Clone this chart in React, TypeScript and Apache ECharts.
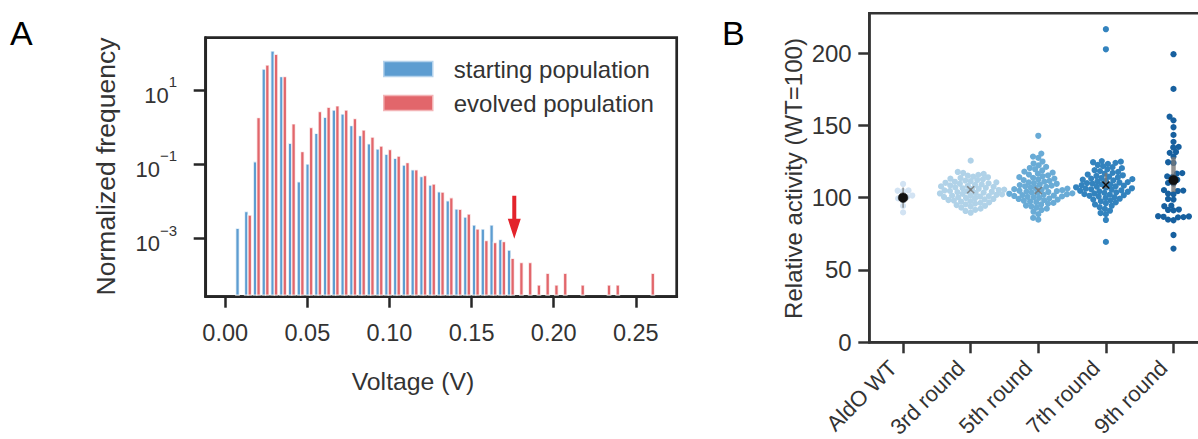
import React, { useEffect, useRef } from "react";
import * as echarts from "echarts";

const FONT = "'Liberation Sans', Arial, Helvetica, sans-serif";

// ---------------- Panel A: voltage histogram ----------------
const BIN_START = 0.00588;
const BIN_WIDTH = 0.005335;
const startingFreq = [
  0.0019, 0.0054, 0.117, 36.3, 112, 22.9, 0.37, 0.034, 0.102, 0.68, 1.84, 2.88,
  2.26, 1.1, 0.59, 0.355, 0.257, 0.186, 0.145, 0.095, 0.071, 0.047, 0.0275, 0.0182,
  0.0105, 0.0063, 0.0038, 0.00234, 0.00182, 0.00234, 0.00095, 0.00049, 0, 0, 0, 0,
  0, 0, 0, 0, 0, 0, 0, 0, 0, 0, 0, 0,
];
const evolvedFreq = [
  0, 0.0043, 1.8, 46.8, 91.2, 22.9, 1.22, 0.219, 0.98, 2.63, 3.43, 3.72,
  2.88, 1.7, 0.84, 0.537, 0.309, 0.251, 0.166, 0.111, 0.071, 0.05, 0.0295, 0.0178,
  0.0126, 0.0062, 0.0046, 0.00182, 0.00089, 0.00079, 0.00083, 0.000295, 0.000229, 0.000229, 0.0000569, 0.000117,
  0.0000569, 0.000117, 0, 0.0000569, 0, 0, 0.0000569, 0.0000569, 0, 0, 0, 0.000117,
];
const voltageTicks = [0, 0.05, 0.1, 0.15, 0.2, 0.25];
const freqTickExponents = [-3, -1, 1];
const voltageRange = [-0.0119, 0.2749];
const logFreqRange = [-4.56, 2.407];
const arrowVoltage = 0.176;
const arrowFreq = 0.001;
const seriesNamesA = ["starting population", "evolved population"];

// ---------------- Panel B: relative activity swarm ----------------
const categories = ["AldO WT", "3rd round", "5th round", "7th round", "9th round"];
const wtActivity = [109.5, 105, 104.8, 104.5, 101.5, 100.5, 99.5, 98, 94.3, 89.8];
const round3Activity = [
  125.6,
  117.8, 117.1,
  116.4, 115.8, 115.2,
  114.6, 114.1, 113.6, 113.1,
  112.7, 112.2, 111.8, 111.4, 111.0,
  110.6, 110.3, 109.9, 109.6, 109.2, 108.9,
  108.5, 108.2, 107.8, 107.5, 107.1, 106.8,
  106.5, 106.2, 105.9, 105.6, 105.3, 105.0, 104.7,
  104.4, 104.1, 103.8, 103.5, 103.2, 102.9, 102.6,
  102.3, 102.0, 101.7, 101.4, 101.1, 100.8, 100.5,
  100.2, 99.8, 99.5, 99.1, 98.8, 98.4,
  98.0, 97.6, 97.2, 96.8, 96.4,
  95.9, 95.4, 94.9, 94.4,
  93.8, 93.1, 92.4,
  91.6, 90.8,
  89.6,
];
const round5Activity = [
  142.8,
  130.5,
  128.4, 127.5,
  125.0,
  123.6, 122.4,
  121.3, 120.5, 119.7,
  118.8, 118.0, 117.3,
  116.6, 116.0, 115.4, 114.8,
  114.2, 113.7, 113.2, 112.6, 112.1,
  111.6, 111.1, 110.6, 110.1, 109.6,
  109.1, 108.7, 108.3, 107.9, 107.5, 107.1,
  106.7, 106.3, 105.9, 105.6, 105.2, 104.8,
  104.5, 104.2, 103.9, 103.6, 103.3, 103.0, 102.7,
  102.4, 102.1, 101.8, 101.5, 101.2, 100.9, 100.6,
  100.3, 99.9, 99.5, 99.1, 98.7, 98.3,
  97.9, 97.4, 96.9, 96.4, 95.9,
  95.3, 94.6, 93.9, 93.2,
  92.4, 91.5,
  90.3,
  88.6,
  86.0, 84.8,
];
const round7Activity = [
  216.5, 202.6,
  125.3, 124.9, 124.5, 124.1,
  123.4, 122.6, 121.8,
  121.1, 120.4, 119.7,
  119.0, 118.4, 117.8, 117.2,
  116.6, 116.0, 115.5, 115.0, 114.5,
  114.0, 113.6, 113.2, 112.8, 112.4, 112.0,
  111.6, 111.2, 110.8, 110.5, 110.1, 109.7, 109.3,
  109.0, 108.6, 108.3, 107.9, 107.6, 107.2, 106.9,
  106.5, 106.2, 105.8, 105.5, 105.1, 104.8, 104.4,
  104.1, 103.7, 103.3, 102.9, 102.5, 102.1,
  101.7, 101.3, 100.8, 100.3, 99.8,
  99.3, 98.7, 98.1, 97.5,
  96.8, 96.1, 95.3,
  94.4, 93.4,
  92.3, 91.0,
  89.4, 88.6,
  84.6,
  69.4,
];
const round9Activity = [
  199.2, 175.2, 156.0, 153.5, 148.7, 143.4, 138.6, 135.1, 134.7, 131.6, 131.0,
  128.4, 124.5, 124.0, 117.0, 116.6, 114.7, 114.3, 112.4, 110.2, 109.8, 105.2,
  104.9, 104.6, 102.8, 102.4, 99.1, 98.7, 94.5, 94.1, 91.8, 91.5, 91.2, 87.2,
  87.0, 86.8, 86.6, 86.4, 84.8, 84.4, 74.2, 64.8,
];
const groupActivity = [wtActivity, round3Activity, round5Activity, round7Activity, round9Activity];
const groupMean = [100, 105.5, 105, 108.8, 112.2];
const groupCILow = [93, 104.5, 104, 106.5, 104];
const groupCIHigh = [107, 106.5, 106.5, 117, 128];
const groupMarkerKind = [0, 1, 1, 2, 0];
const activityTicks = [0, 50, 100, 150, 200];
const activityMax = 227.5;

const groupColors = ["#d2e3f3", "#b0d2e8", "#69abd6", "#3383be", "#17609f"];
const CI_WIDTHS = [1.5, 1.5, 1.5, 2.5, 4.5];
const BLUE = "#5d9dd1";
const RED = "#e2666b";
const BLUE_EDGE = "#b4d2ec";
const RED_EDGE = "#f3b4b6";
const AXIS = "#262626";
const TEXT = "#333333";

function histRender(offsetFrac: number, fill: string) {
  return (params: any, api: any) => {
    const x0 = api.value(0) + offsetFrac * BIN_WIDTH;
    const x1 = x0 + 0.4 * BIN_WIDTH;
    const p0 = api.coord([x0, api.value(1)]);
    const p1 = api.coord([x1, logFreqRange[0]]);
    return {
      type: "rect",
      shape: { x: p0[0], y: p0[1], width: p1[0] - p0[0], height: p1[1] - p0[1] - 1.6 },
      style: { fill, stroke: "rgba(255,255,255,0.75)", lineWidth: 1.3 },
    };
  };
}

function histData(freqs: number[]) {
  const out: number[][] = [];
  freqs.forEach((f, k) => {
    if (f > 0) out.push([BIN_START + k * BIN_WIDTH, Math.log10(f)]);
  });
  return out;
}

function swarmOffsets(ys: number[], r: number): number[] {
  const idx = ys.map((_, i) => i).sort((a, b) => ys[b] - ys[a]);
  const placed: { x: number; y: number }[] = [];
  const out = new Array(ys.length).fill(0);
  const d = 2 * r;
  for (const i of idx) {
    const y = ys[i];
    const neighbors = placed.filter((p) => Math.abs(p.y - y) < d);
    const cands = [0];
    for (const p of neighbors) {
      const dy = y - p.y;
      const dx = Math.sqrt(Math.max(d * d - dy * dy, 0)) * 1.05;
      cands.push(p.x - dx, p.x + dx);
    }
    cands.sort((a, b) => Math.abs(a) - Math.abs(b));
    let chosen = 0;
    for (const c of cands) {
      if (neighbors.every((p) => (p.x - c) ** 2 + (p.y - y) ** 2 >= d * d * 0.999)) {
        chosen = c;
        break;
      }
    }
    placed.push({ x: chosen, y });
    out[i] = chosen;
  }
  return out;
}

export default function App() {
  const ref = useRef<HTMLDivElement>(null);
  useEffect(() => {
    if (!ref.current) return;
    const chart = echarts.init(ref.current, null, { renderer: "svg" });
    const histSeries = [
      {
        type: "custom",
        name: seriesNamesA[0],
        xAxisIndex: 0,
        yAxisIndex: 0,
        itemStyle: { color: BLUE },
        encode: { x: 0, y: 1 },
        data: histData(startingFreq),
        renderItem: histRender(0.1, BLUE),
        z: 2,
      },
      {
        type: "custom",
        name: seriesNamesA[1],
        xAxisIndex: 0,
        yAxisIndex: 0,
        itemStyle: { color: RED },
        encode: { x: 0, y: 1 },
        data: histData(evolvedFreq),
        renderItem: histRender(0.5, RED),
        z: 2,
      },
    ];
    const base: any = {
      animation: false,
      backgroundColor: "#ffffff",
      textStyle: { fontFamily: FONT },
      grid: [
        { left: 205.7, top: 37.7, width: 471, height: 259, show: true, borderColor: AXIS, borderWidth: 2.7, backgroundColor: "transparent", outerBoundsMode: "none", containLabel: false },
        { left: 869.3, top: 13.3, width: 338, height: 329, show: true, borderColor: "#333", borderWidth: 2.5, backgroundColor: "transparent", outerBoundsMode: "none", containLabel: false },
      ],
      legend: {
        orient: "vertical",
        left: 383,
        top: 56,
        padding: 0,
        itemWidth: 49,
        itemHeight: 15,
        itemGap: 8,
        icon: "rect",
        textStyle: { fontSize: 24, color: TEXT, lineHeight: 26, padding: [0, 0, 0, 16], fontFamily: FONT },
        data: [
          { name: seriesNamesA[0], icon: "rect", itemStyle: { color: BLUE, borderColor: BLUE_EDGE, borderWidth: 1.5 } },
          { name: seriesNamesA[1], icon: "rect", itemStyle: { color: RED, borderColor: RED_EDGE, borderWidth: 1.5 } },
        ],
      },
      xAxis: [
        {
          type: "value",
          gridIndex: 0,
          min: voltageRange[0],
          max: voltageRange[1],
          axisLine: { show: true, onZero: false, lineStyle: { color: AXIS, width: 2.7 } },
          axisTick: { show: true, length: 11, customValues: voltageTicks, lineStyle: { color: AXIS, width: 2.5 } },
          axisLabel: {
            customValues: voltageTicks,
            formatter: (v: number) => v.toFixed(2),
            fontSize: 23.5,
            color: TEXT,
            margin: 24,
            fontFamily: FONT,
          },
          splitLine: { show: false },
        },
        {
          type: "category",
          gridIndex: 1,
          data: categories,
          boundaryGap: true,
          axisLine: { show: true, onZero: false, lineStyle: { color: "#333", width: 2.5 } },
          axisTick: { show: true, alignWithLabel: true, length: 11, lineStyle: { color: "#333", width: 2.5 } },
          axisLabel: { rotate: 45, fontSize: 22, color: TEXT, margin: 12, padding: [0, 14, 0, 0], fontFamily: FONT, interval: 0 },
          splitLine: { show: false },
        },
        { type: "value", gridIndex: 1, min: -0.5, max: 4.5, show: false, axisLine: { onZero: false }, splitLine: { show: false } },
      ],
      yAxis: [
        {
          type: "value",
          gridIndex: 0,
          min: logFreqRange[0],
          max: logFreqRange[1],
          axisLine: { show: true, onZero: false, lineStyle: { color: AXIS, width: 2.7 } },
          axisTick: { show: true, length: 12, customValues: freqTickExponents, lineStyle: { color: AXIS, width: 2.5 } },
          axisLabel: {
            customValues: freqTickExponents,
            margin: 28.7,
            formatter: (v: number) => `{b|10}{s|${v < 0 ? "\u2212" : ""}${Math.abs(v)}}`,
            rich: {
              b: { fontSize: 22, color: TEXT, lineHeight: 32, verticalAlign: "bottom", fontFamily: FONT },
              s: { fontSize: 15, color: TEXT, lineHeight: 32, verticalAlign: "top", fontFamily: FONT },
            },
          },
          splitLine: { show: false },
        },
        {
          type: "value",
          gridIndex: 1,
          min: 0,
          max: activityMax,
          axisLine: { show: true, onZero: false, lineStyle: { color: "#333", width: 2.5 } },
          axisTick: { show: true, length: 11, customValues: activityTicks, lineStyle: { color: "#333", width: 2.5 } },
          axisLabel: { customValues: activityTicks, fontSize: 24, color: TEXT, margin: 17.6, fontFamily: FONT },
          splitLine: { show: false },
        },
      ],
      series: histSeries,
    };
    chart.setOption(base);

    // swarm layout in pixel space using the chart's own scales
    const x0px = chart.convertToPixel({ xAxisIndex: 2 } as any, 0) as unknown as number;
    const x1px = chart.convertToPixel({ xAxisIndex: 2 } as any, 1) as unknown as number;
    const pxPerCat = x1px - x0px;
    const scatterSeries = groupActivity.map((vals, g) => {
      const ys = vals.map((v) => chart.convertToPixel({ yAxisIndex: 1 } as any, v) as unknown as number);
      const offs = swarmOffsets(ys, 2.6);
      return {
        type: "scatter",
        name: categories[g],
        xAxisIndex: 2,
        yAxisIndex: 1,
        symbol: "circle",
        symbolSize: 6.2,
        itemStyle: { color: groupColors[g], opacity: 1 },
        data: vals.map((v, i) => [g + offs[i] / pxPerCat, v]),
        z: 3,
      };
    });
    const overlay = {
      type: "custom",
      name: "mean",
      xAxisIndex: 2,
      yAxisIndex: 1,
      encode: { x: 0, y: 1 },
      z: 4,
      data: categories.map((_, g) => [g, groupMean[g], groupCILow[g], groupCIHigh[g], groupMarkerKind[g], CI_WIDTHS[g]]),
      renderItem: (params: any, api: any) => {
        const g = api.value(0);
        const pM = api.coord([g, api.value(1)]);
        const pLo = api.coord([g, api.value(2)]);
        const pHi = api.coord([g, api.value(3)]);
        const kind = api.value(4);
        const w = api.value(5);
        const children: any[] = [
          {
            type: "line",
            shape: { x1: pLo[0], y1: pLo[1], x2: pHi[0], y2: pHi[1] },
            style: { stroke: "rgba(120,120,120,0.8)", lineWidth: w },
          },
        ];
        if (kind === 0) {
          children.push({ type: "circle", shape: { cx: pM[0], cy: pM[1], r: 4.8 }, style: { fill: "#111", stroke: "#111", lineWidth: 0.5 } });
        } else {
          const c = kind === 1 ? "rgba(120,120,120,0.85)" : "#111";
          const s = 3.5;
          children.push({ type: "line", shape: { x1: pM[0] - s, y1: pM[1] - s, x2: pM[0] + s, y2: pM[1] + s }, style: { stroke: c, lineWidth: 1.6 } });
          children.push({ type: "line", shape: { x1: pM[0] - s, y1: pM[1] + s, x2: pM[0] + s, y2: pM[1] - s }, style: { stroke: c, lineWidth: 1.6 } });
        }
        return { type: "group", children };
      },
    };

    const ax = chart.convertToPixel({ xAxisIndex: 0 } as any, arrowVoltage) as unknown as number;
    const ay = chart.convertToPixel({ yAxisIndex: 0 } as any, Math.log10(arrowFreq)) as unknown as number;
    const arrowPts = [
      [ax - 2, ay - 43], [ax + 2, ay - 43], [ax + 2, ay - 20], [ax + 6.5, ay - 20],
      [ax, ay], [ax - 6.5, ay - 20], [ax - 2, ay - 20],
    ];

    chart.setOption({
      series: [...histSeries, ...scatterSeries, overlay],
      graphic: [
        { type: "polygon", shape: { points: arrowPts }, style: { fill: "#e3232b" }, z: 10 },
        { type: "text", x: 10, y: 16, style: { text: "A", fontSize: 34, fill: "#000", fontFamily: FONT } },
        { type: "text", x: 722, y: 16, style: { text: "B", fontSize: 34, fill: "#000", fontFamily: FONT } },
        {
          type: "text", x: 106, y: 166.5, rotation: Math.PI / 2,
          style: { text: "Normalized frequency", fontSize: 26.5, fill: TEXT, align: "center", verticalAlign: "middle", fontFamily: FONT },
        },
        {
          type: "text", x: 413, y: 381,
          style: { text: "Voltage (V)", fontSize: 24.8, fill: TEXT, align: "center", verticalAlign: "middle", fontFamily: FONT },
        },
        {
          type: "text", x: 793, y: 178.5, rotation: Math.PI / 2,
          style: { text: "Relative activity (WT=100)", fontSize: 24, fill: TEXT, align: "center", verticalAlign: "middle", fontFamily: FONT },
        },
      ],
    });

    return () => chart.dispose();
  }, []);
  return (
    <div
      ref={ref}
      style={{ position: "fixed", left: 0, top: 0, width: 1198, height: 439, background: "#fff" }}
    />
  );
}
